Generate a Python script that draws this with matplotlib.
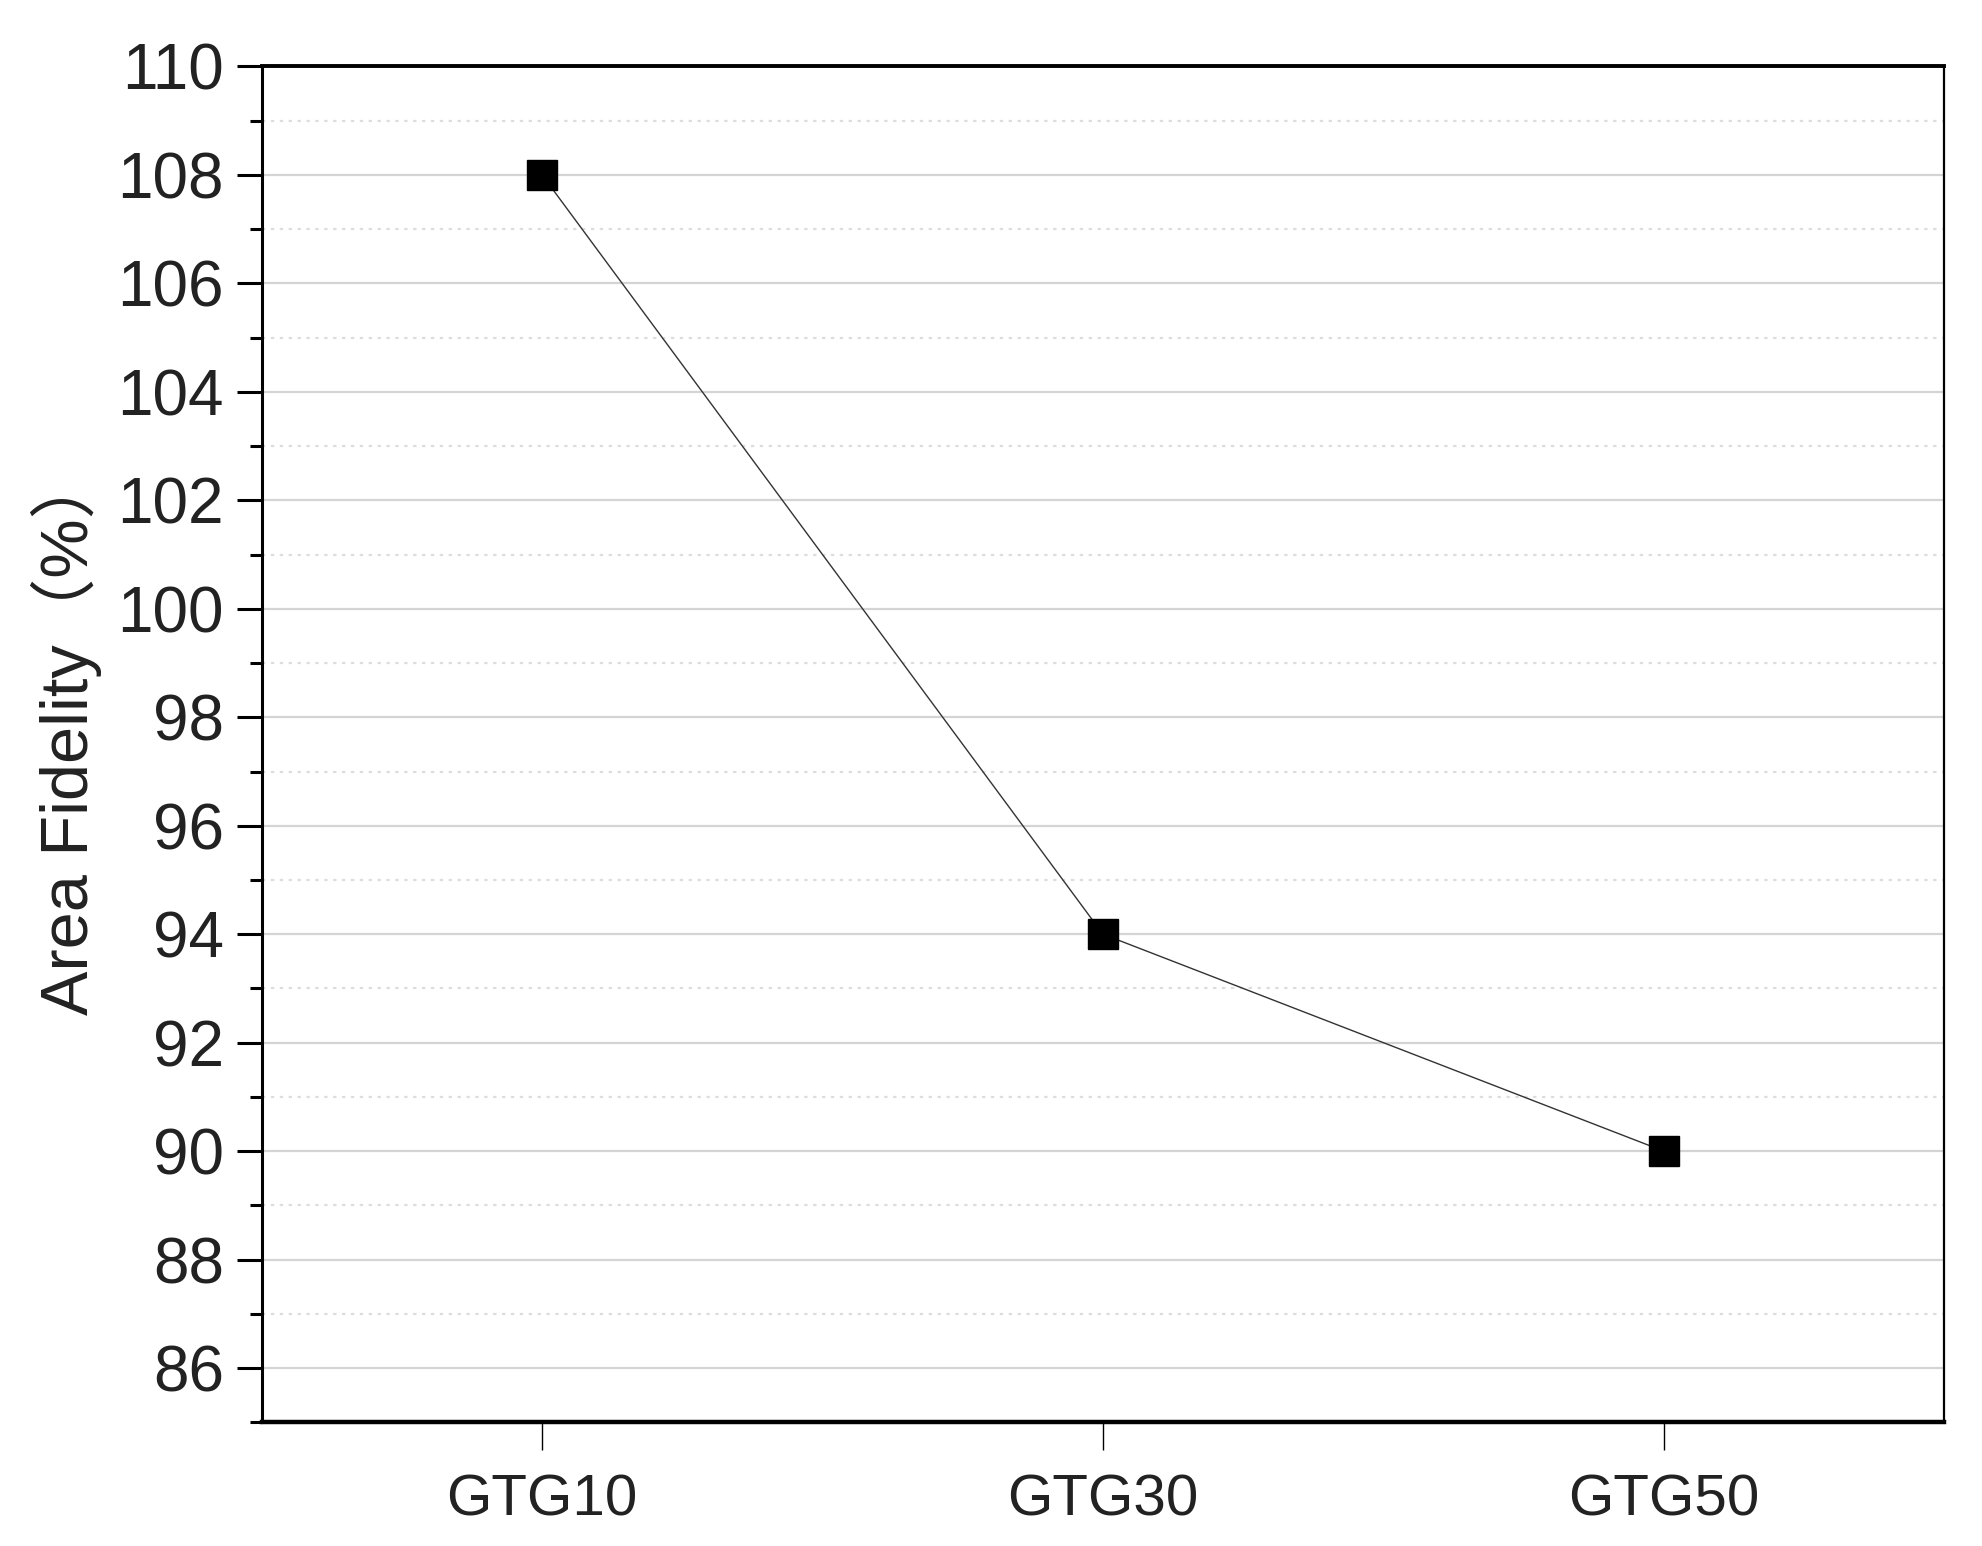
import numpy as np
import matplotlib
matplotlib.use("Agg")
import matplotlib.pyplot as plt
from matplotlib.ticker import MultipleLocator

plt.rcParams['font.family'] = ['Liberation Sans', 'Noto Sans CJK TC', 'DejaVu Sans']

# data
groups = ["GTG10", "GTG30", "GTG50"]
fidelity = [108, 94, 90]

y_label = "Area Fidelity（%）"

fig = plt.figure(figsize=(19.82, 15.46), dpi=100)
ax = fig.add_axes([0.132, 0.080, 0.849, 0.877])

x = np.arange(len(groups))
ax.plot(x, fidelity, color="#333333", lw=1.0, zorder=3)
ax.plot(x, fidelity, ls="none", marker="s", ms=21, color="black", zorder=4)

ax.set_xlim(-0.5, len(groups) - 0.5)
ax.set_ylim(85, 110)
ax.set_xticks(x)
ax.set_xticklabels(groups)
ax.yaxis.set_major_locator(MultipleLocator(2))
ax.yaxis.set_minor_locator(MultipleLocator(1))
ax.set_yticks(np.arange(86, 111, 2))

# grid: solid major, dotted minor
ax.grid(axis="y", which="major", color="#d4d4d4", lw=1.6, ls="-", zorder=0)
ax.grid(axis="y", which="minor", color="#dddddd", lw=1.6, ls=(0, (1.5, 2.5)), zorder=0)
ax.set_axisbelow(True)

ax.tick_params(axis="y", which="major", direction="out", length=18, width=2.2,
               labelsize=46, pad=9, color="black")
ax.tick_params(axis="y", which="minor", direction="out", length=9, width=2.2)
ax.tick_params(axis="x", which="major", direction="out", length=20, width=1.0,
               labelsize=42, pad=17)

for side, w in [("left", 2.2), ("bottom", 3.2), ("top", 2.8), ("right", 1.6)]:
    ax.spines[side].set_linewidth(w)
    ax.spines[side].set_color("black")

for lab in ax.get_xticklabels() + ax.get_yticklabels():
    lab.set_color("#222222")

ax.set_ylabel(y_label, fontsize=48, color="#222222")
ax.yaxis.set_label_coords(-0.095, 0.508)

fig.savefig("out.png", dpi=100, facecolor="white")
